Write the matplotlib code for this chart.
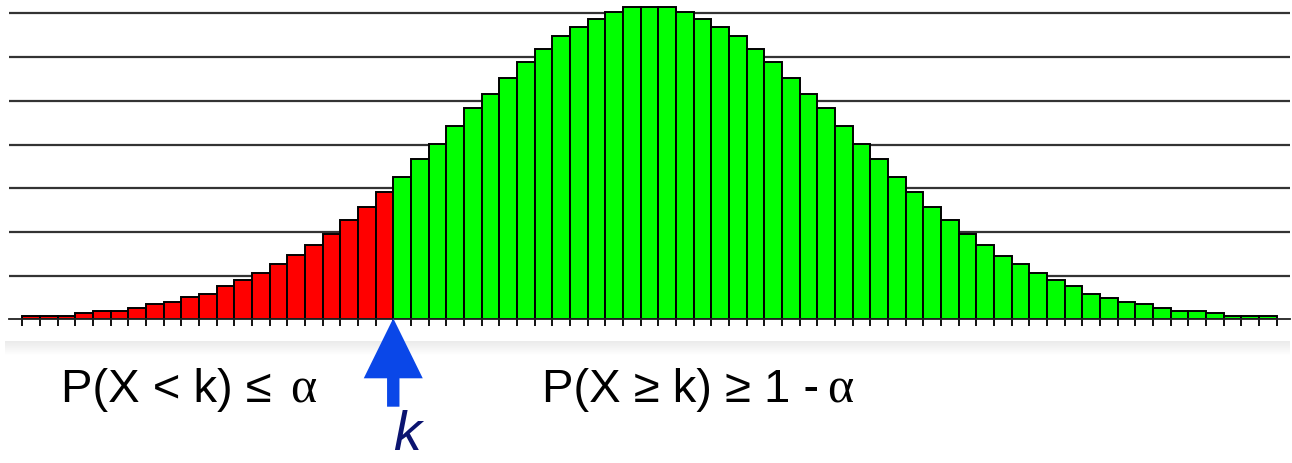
import matplotlib
matplotlib.use("Agg")
import matplotlib.pyplot as plt
from matplotlib.patches import Polygon, Rectangle
from matplotlib.transforms import blended_transform_factory
import numpy as np

# ---- data (bar heights in gridline units) ----
red_values = [0.08, 0.08, 0.08, 0.14, 0.20, 0.20, 0.26, 0.35, 0.40, 0.51,
              0.59, 0.76, 0.90, 1.05, 1.26, 1.46, 1.71, 1.95, 2.27, 2.56, 2.91]
green_values = [3.26, 3.67, 4.01, 4.42, 4.83, 5.16, 5.53, 5.88, 6.18, 6.48,
                6.68, 6.88, 7.04, 7.15, 7.15, 7.15, 7.04, 6.88, 6.68, 6.48,
                6.18, 5.88, 5.53, 5.16, 4.83, 4.42, 4.01, 3.67, 3.26, 2.91,
                2.56, 2.27, 1.95, 1.70, 1.45, 1.26, 1.05, 0.90, 0.76, 0.59,
                0.49, 0.40, 0.35, 0.25, 0.18, 0.18, 0.14, 0.08, 0.08, 0.08]
k_index = len(red_values)          # first bar of the green region
grid_levels = [1, 2, 3, 4, 5, 6, 7]
left_label = "P(X < k) ≤"
right_label = "P(X ≥ k) ≥ 1 -"
alpha_sym = "α"
k_label = "k"

W, H = 1292, 463
fig = plt.figure(figsize=(W / 100, H / 100), dpi=100)
fig.patch.set_facecolor("white")

# axes geometry (pixels)
ax_left_px, ax_right_px = 9.3, 1290.0
base_px = 319.3
ax = fig.add_axes([ax_left_px / W, (H - base_px) / H,
                   (ax_right_px - ax_left_px) / W, base_px / H])
ax.set_facecolor("none")

n_red = len(red_values)
x_red = np.arange(n_red)
x_green = np.arange(n_red, n_red + len(green_values))
n_total = n_red + len(green_values)

for g in grid_levels:
    ax.axhline(g, color="#333333", lw=1.6, zorder=1)

ax.bar(x_red, red_values, width=1.0, color="#ff0000", edgecolor="black",
       linewidth=1.4, zorder=2)
ax.bar(x_green, green_values, width=1.0, color="#00ff00", edgecolor="black",
       linewidth=1.4, zorder=2)

ax.set_xlim(-1.23, n_total - 0.5 + 0.75)
ax.set_ylim(0, base_px / 43.7)

for s in ["top", "right", "left"]:
    ax.spines[s].set_visible(False)
ax.spines["bottom"].set_color("#222222")
ax.spines["bottom"].set_linewidth(1.3)
ax.spines["bottom"].set_zorder(3)
ax.set_yticks([])
ax.set_xticks(np.arange(n_total + 1) - 0.5)
ax.set_xticklabels([])
ax.tick_params(axis="x", direction="out", length=5, width=1.4, color="#111111")

# shadow band below chart image
for i in range(15):
    c = 0.92 + 0.08 * (i / 14)
    fig.add_artist(Rectangle((5 / W, (H - 342 - i) / H), (1290 - 5) / W, 1 / H,
                             transform=fig.transFigure, facecolor=(c, c, c),
                             edgecolor="none", zorder=0))

# arrow at k
tr = blended_transform_factory(ax.transData, fig.transFigure)
kx = k_index - 0.5
hw, sw = 29.5 / 17.67, 6.2 / 17.67
y_tip = (H - 318.3) / H
y_head = (H - 378.3) / H
y_bot = (H - 406.7) / H
arrow = Polygon([[kx, y_tip], [kx + hw, y_head], [kx + sw, y_head],
                 [kx + sw, y_bot], [kx - sw, y_bot], [kx - sw, y_head],
                 [kx - hw, y_head]], closed=True, transform=tr,
                facecolor="#0a47e8", edgecolor="none", zorder=5)
fig.add_artist(arrow)

fs = 34
yb = (H - 402.3) / H
fig.text(60.7 / W, yb, left_label, fontsize=fs,
         family="Liberation Sans", ha="left", va="baseline")
fig.text(316 / W, yb, alpha_sym, fontsize=fs + 2,
         family="Liberation Serif", ha="right", va="baseline")
fig.text(541.7 / W, yb, right_label, fontsize=fs,
         family="Liberation Sans", ha="left", va="baseline")
fig.text(853.3 / W, yb, alpha_sym, fontsize=fs + 2,
         family="Liberation Serif", ha="right", va="baseline")
fig.text(407 / W, (H - 462) / H, k_label, fontsize=40, style="italic",
         family="Liberation Sans", color="#0b1470", ha="center", va="bottom")

fig.savefig("out.png", dpi=100, facecolor="white")
